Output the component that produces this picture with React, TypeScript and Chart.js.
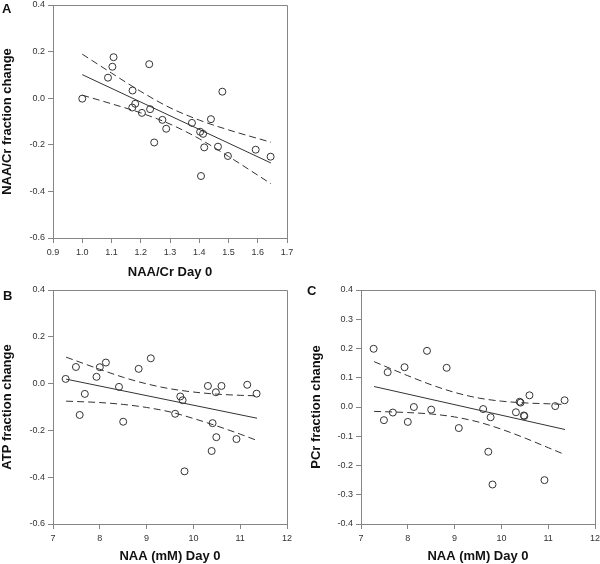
import React, { useEffect, useRef } from "react";
import { Chart, registerables } from "chart.js";
Chart.register(...registerables);

const FONT = "'Liberation Sans', Arial, Helvetica, sans-serif";

// ---------- Panel A: NAA/Cr ----------
const aX = [1.0, 1.088, 1.103, 1.107, 1.229, 1.172, 1.181, 1.171, 1.204, 1.232, 1.274, 1.287, 1.246, 1.375, 1.44, 1.403, 1.413, 1.417, 1.406, 1.464, 1.498, 1.479, 1.593, 1.644];
const aY = [-0.002, 0.088, 0.135, 0.176, 0.146, 0.033, -0.024, -0.04, -0.063, -0.047, -0.093, -0.131, -0.19, -0.106, -0.09, -0.144, -0.153, -0.211, -0.334, -0.208, -0.248, 0.028, -0.221, -0.251];
const aFitX = [1.0, 1.645];
const aFitY = [0.101, -0.278];
const aBandX = [1.0, 1.1, 1.2, 1.3, 1.4, 1.5, 1.645];
const aBandUp = [0.189, 0.108, 0.029, -0.041, -0.094, -0.136, -0.189];
const aBandLo = [0.013, -0.024, -0.063, -0.111, -0.174, -0.25, -0.367];
const aXTicks = [0.9, 1.0, 1.1, 1.2, 1.3, 1.4, 1.5, 1.6, 1.7];
const aYTicks = [-0.6, -0.4, -0.2, 0.0, 0.2, 0.4];

// ---------- Panels B & C: NAA (mM) ----------
const naaX = [7.27, 7.49, 7.57, 7.68, 7.93, 8.0, 8.13, 8.41, 8.5, 8.83, 9.09, 9.61, 9.72, 9.77, 9.81, 10.31, 10.39, 10.41, 10.48, 10.49, 10.6, 10.92, 11.15, 11.35];
const bY = [0.02, 0.071, -0.134, -0.044, 0.029, 0.07, 0.09, -0.014, -0.163, 0.063, 0.108, -0.129, -0.055, -0.071, -0.375, -0.01, -0.288, -0.169, -0.037, -0.229, -0.01, -0.237, -0.005, -0.043];
const bFitX = [7.28, 11.36];
const bFitY = [0.019, -0.148];
const bBandX = [7.28, 8, 8.5, 9, 9.5, 10, 10.5, 11, 11.32];
const bBandUp = [0.113, 0.061, 0.027, -0.001, -0.022, -0.036, -0.045, -0.05, -0.052];
const bBandLo = [-0.075, -0.081, -0.089, -0.102, -0.121, -0.149, -0.181, -0.216, -0.24];
const bYTicks = [-0.6, -0.4, -0.2, 0.0, 0.2, 0.4];

const cY = [0.199, -0.045, 0.119, -0.019, 0.136, -0.051, 0.0, 0.192, -0.009, 0.134, -0.072, -0.007, -0.153, -0.035, -0.265, -0.018, 0.018, 0.015, -0.029, -0.031, 0.04, -0.25, 0.003, 0.023];
const cFitX = [7.28, 11.36];
const cFitY = [0.07, -0.077];
const cBandX = [7.28, 8, 8.5, 9, 9.5, 10, 10.5, 11, 11.3];
const cBandUp = [0.155, 0.107, 0.076, 0.05, 0.031, 0.02, 0.014, 0.011, 0.009];
const cBandLo = [-0.015, -0.019, -0.024, -0.034, -0.051, -0.076, -0.106, -0.139, -0.159];
const cYTicks = [-0.4, -0.3, -0.2, -0.1, 0.0, 0.1, 0.2, 0.3, 0.4];

const naaXTicks = [7, 8, 9, 10, 11, 12];

const AXIS = "#858585";
const INK = "#333333";

const framePlugin = {
  id: "frame",
  afterDraw(chart: any) {
    const { ctx, chartArea } = chart;
    const l = Math.round(chartArea.left) + 0.5;
    const r = Math.round(chartArea.right) + 0.5;
    const t = Math.round(chartArea.top) + 0.5;
    const b = Math.round(chartArea.bottom) + 0.5;
    ctx.save();
    ctx.strokeStyle = AXIS;
    ctx.lineWidth = 1;
    ctx.beginPath();
    ctx.moveTo(l, t);
    ctx.lineTo(r, t);
    ctx.lineTo(r, b);
    ctx.stroke();
    ctx.restore();
  },
};

type PanelProps = {
  left: number; top: number; width: number; height: number;
  xs: number[]; ys: number[];
  fitX: number[]; fitY: number[];
  bandX: number[]; bandUp: number[]; bandLo: number[];
  xTicks: number[]; xDec: number; yTicks: number[]; yDec: number;
  xTitle: string; yTitle: string;
  pad: { left: number; right: number; top: number; bottom: number };
  yWidth: number; xHeight: number; yTitlePad: number;
};

function Panel(p: PanelProps) {
  const ref = useRef<HTMLCanvasElement | null>(null);
  useEffect(() => {
    if (!ref.current) return;
    const pts = (xs: number[], ys: number[]) => xs.map((x, i) => ({ x, y: ys[i] }));
    const lineDs = (data: any, dash: number[]) => ({
      data,
      showLine: true,
      pointRadius: 0,
      borderColor: INK,
      borderWidth: 1,
      borderDash: dash,
      fill: false,
      cubicInterpolationMode: "monotone",
    });
    const tickFont = { family: FONT, size: 9 };
    const titleFont = { family: FONT, size: 13, weight: "bold" };
    const chart = new Chart(ref.current, {
      type: "scatter",
      data: {
        datasets: [
          lineDs(pts(p.bandX, p.bandUp), [7, 4]),
          lineDs(pts(p.bandX, p.bandLo), [7, 4]),
          lineDs(pts(p.fitX, p.fitY), []),
          {
            data: pts(p.xs, p.ys),
            pointStyle: "circle",
            pointRadius: 3.5,
            borderColor: INK,
            backgroundColor: "rgba(0,0,0,0)",
            borderWidth: 1,
            showLine: false,
          },
        ] as any,
      },
      options: {
        responsive: false,
        animation: false,
        devicePixelRatio: 1,
        layout: { padding: p.pad },
        plugins: { legend: { display: false }, tooltip: { enabled: false } },
        scales: {
          x: {
            type: "linear",
            min: p.xTicks[0],
            max: p.xTicks[p.xTicks.length - 1],
            afterBuildTicks: (s: any) => { s.ticks = p.xTicks.map((v) => ({ value: v })); },
            afterFit: (s: any) => { s.height = p.xHeight; s.paddingLeft = 0; s.paddingRight = 0; },
            grid: { display: true, drawOnChartArea: false, drawTicks: true, tickLength: 5, color: AXIS },
            border: { display: true, color: AXIS },
            ticks: {
              font: tickFont, color: INK, padding: 4, maxRotation: 0, autoSkip: false,
              callback: (v: any) => Number(v).toFixed(p.xDec),
            },
            title: { display: true, text: p.xTitle, font: titleFont, color: "#111", padding: 0 },
          },
          y: {
            type: "linear",
            min: p.yTicks[0],
            max: p.yTicks[p.yTicks.length - 1],
            afterBuildTicks: (s: any) => { s.ticks = p.yTicks.map((v) => ({ value: v })); },
            afterFit: (s: any) => { s.width = p.yWidth; s.paddingTop = 0; s.paddingBottom = 0; },
            grid: { display: true, drawOnChartArea: false, drawTicks: true, tickLength: 5, color: AXIS },
            border: { display: true, color: AXIS },
            ticks: {
              font: tickFont, color: INK, padding: 3, autoSkip: false,
              callback: (v: any) => Number(v).toFixed(p.yDec),
            },
            title: { display: true, text: p.yTitle, font: titleFont, color: "#111", padding: { top: p.yTitlePad, bottom: 0 } },
          },
        },
      } as any,
      plugins: [framePlugin],
    });
    return () => chart.destroy();
  }, []);
  return (
    <canvas
      ref={ref}
      width={p.width}
      height={p.height}
      style={{ position: "absolute", left: p.left, top: p.top, width: p.width, height: p.height }}
    />
  );
}

const letterStyle = (left: number, top: number): React.CSSProperties => ({
  position: "absolute",
  left,
  top,
  fontFamily: FONT,
  fontWeight: "bold",
  fontSize: 13,
  lineHeight: "13px",
  color: "#111",
});

export default function App() {
  return (
    <div style={{ position: "fixed", left: 0, top: 0, width: 600, height: 564, background: "#fff", overflow: "hidden" }}>
      <Panel
        left={0} top={0} width={300} height={280}
        xs={aX} ys={aY} fitX={aFitX} fitY={aFitY}
        bandX={aBandX} bandUp={aBandUp} bandLo={aBandLo}
        xTicks={aXTicks} xDec={1} yTicks={aYTicks} yDec={1}
        xTitle="NAA/Cr Day 0" yTitle="NAA/Cr fraction change"
        pad={{ left: 0, right: 13, top: 4, bottom: 0 }}
        yWidth={53} xHeight={42} yTitlePad={0}
      />
      <Panel
        left={0} top={280} width={300} height={284}
        xs={naaX} ys={bY} fitX={bFitX} fitY={bFitY}
        bandX={bBandX} bandUp={bBandUp} bandLo={bBandLo}
        xTicks={naaXTicks} xDec={0} yTicks={bYTicks} yDec={1}
        xTitle="NAA (mM) Day 0" yTitle="ATP fraction change"
        pad={{ left: 0, right: 13, top: 10, bottom: 0 }}
        yWidth={53} xHeight={40} yTitlePad={0}
      />
      <Panel
        left={300} top={280} width={300} height={284}
        xs={naaX} ys={cY} fitX={cFitX} fitY={cFitY}
        bandX={cBandX} bandUp={cBandUp} bandLo={cBandLo}
        xTicks={naaXTicks} xDec={0} yTicks={cYTicks} yDec={1}
        xTitle="NAA (mM) Day 0" yTitle="PCr fraction change"
        pad={{ left: 0, right: 5, top: 10, bottom: 0 }}
        yWidth={61} xHeight={40} yTitlePad={9}
      />
      <div style={letterStyle(2, 2)}>A</div>
      <div style={letterStyle(3, 289)}>B</div>
      <div style={letterStyle(307, 284)}>C</div>
    </div>
  );
}
